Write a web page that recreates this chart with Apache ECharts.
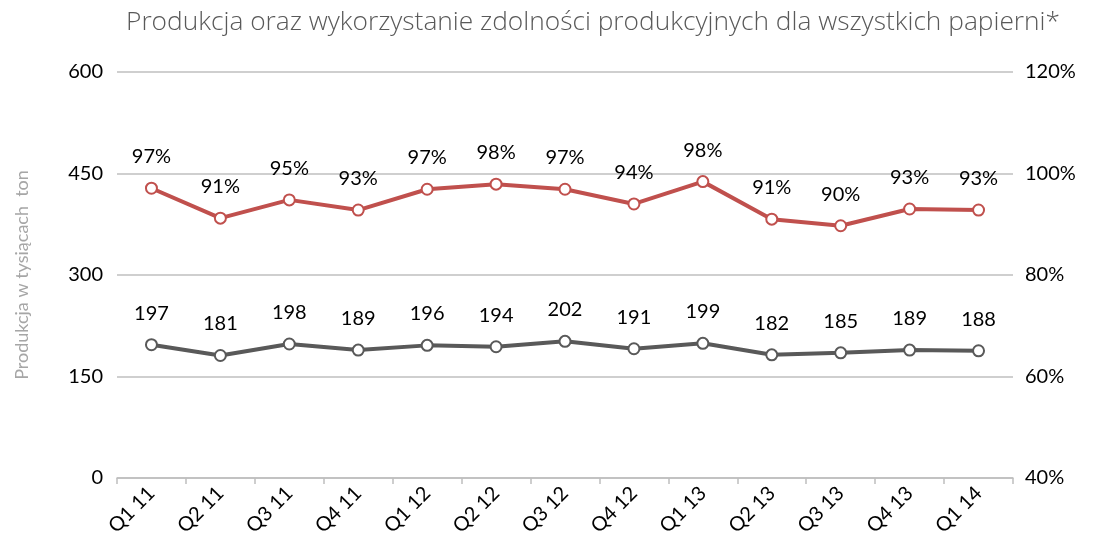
<!DOCTYPE html>
<html><head><meta charset="utf-8">
<script src="https://cdn.jsdelivr.net/npm/echarts@6/dist/echarts.min.js"></script>
<style>html,body{margin:0;padding:0;background:#fff}#c{width:1097px;height:552px}</style>
</head><body><div id="c"></div>
<script>
const categories = ['Q1 11','Q2 11','Q3 11','Q4 11','Q1 12','Q2 12','Q3 12','Q4 12','Q1 13','Q2 13','Q3 13','Q4 13','Q1 14'];
const production = [197,181,198,189,196,194,202,191,199,182,185,189,188];
const utilization = [97.1,91.2,94.8,92.8,96.9,97.9,96.9,94.0,98.4,91.0,89.7,93.0,92.8];
const leftTicks = [0,150,300,450,600];
const rightTicks = ['40%','60%','80%','100%','120%'];

const FONT = 'Lato';
const chart = echarts.init(document.getElementById('c'));
chart.setOption({
  animation:false,
  textStyle:{fontFamily:FONT},
  title:{text:'Produkcja oraz wykorzystanie zdolności produkcyjnych dla wszystkich papierni*',left:121,top:5,
    textStyle:{fontFamily:'Open Sans',fontWeight:300,fontSize:26.3,color:'#595959'}},
  grid:{left:117,right:84,top:72,bottom:74},
  xAxis:{type:'category',data:categories,boundaryGap:true,
    axisLine:{lineStyle:{color:'#bfbfbf',width:1.5}},
    axisTick:{show:true,length:6,lineStyle:{color:'#bfbfbf',width:1.5}},
    axisLabel:{rotate:45,fontSize:20,color:'#000',margin:12,fontFamily:FONT}},
  yAxis:[{type:'value',min:0,max:600,interval:150,
    name:'Produkcja w tysiącach  ton',nameLocation:'middle',nameGap:86,
    nameTextStyle:{color:'#a6a6a6',fontSize:18,fontFamily:FONT},
    axisLabel:{fontSize:20,color:'#000',margin:14,
      formatter:v=>leftTicks.includes(v)?String(v):''},
    splitLine:{lineStyle:{color:'#bfbfbf',width:1.5}},axisLine:{show:false},axisTick:{show:false}},
   {type:'value',min:40,max:120,interval:20,position:'right',
    axisLabel:{fontSize:20,color:'#000',margin:12,formatter:v=>rightTicks[(v-40)/20]},
    splitLine:{show:false},axisLine:{show:false},axisTick:{show:false}}],
  series:[
   {type:'line',name:'Produkcja',data:production,yAxisIndex:0,
    symbol:'emptyCircle',symbolSize:11,
    lineStyle:{color:'#595959',width:4},
    itemStyle:{color:'#595959',borderColor:'#595959',borderWidth:3},
    label:{show:true,position:'top',distance:15,fontSize:20,color:'#000',fontFamily:FONT}},
   {type:'line',name:'Wykorzystanie',data:utilization,yAxisIndex:1,
    symbol:'emptyCircle',symbolSize:11,
    lineStyle:{color:'#c0504d',width:4},
    itemStyle:{color:'#c0504d',borderColor:'#c0504d',borderWidth:3},
    label:{show:true,position:'top',distance:15,fontSize:20,color:'#000',fontFamily:FONT,
      formatter:p=>Math.round(p.value)+'%'}}
  ]
});
</script></body></html>
